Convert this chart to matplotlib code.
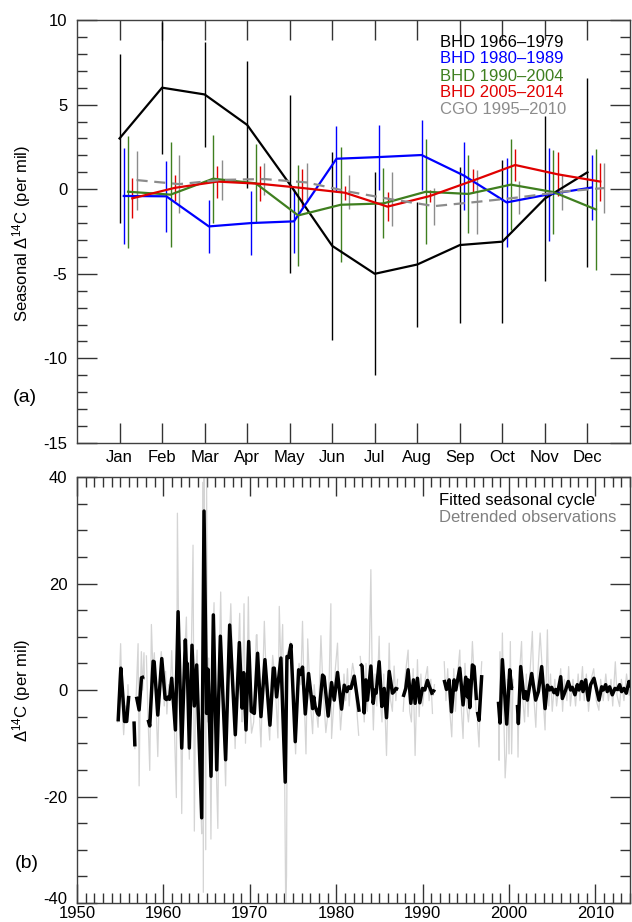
import numpy as np
import matplotlib
matplotlib.use("Agg")
import matplotlib.pyplot as plt
from matplotlib.ticker import MultipleLocator, FixedLocator
import matplotlib.transforms as mtransforms

plt.rcParams['font.family'] = ['Liberation Sans', 'DejaVu Sans']
plt.rcParams['mathtext.fontset'] = 'custom'
plt.rcParams['mathtext.rm'] = 'Liberation Sans'
plt.rcParams['mathtext.it'] = 'Liberation Sans'

# ---------------- Panel (a) data ----------------
months = np.arange(1, 13)
month_labels = ['Jan', 'Feb', 'Mar', 'Apr', 'May', 'Jun', 'Jul', 'Aug', 'Sep', 'Oct', 'Nov', 'Dec']

bhd66 = [3.0, 6.0, 5.6, 3.8, 0.3, -3.35, -5.0, -4.45, -3.3, -3.1, -0.55, 1.0]
bhd66_err = [5.0, 3.9, 3.1, 3.75, 5.25, 5.55, 6.0, 3.7, 4.6, 4.8, 4.85, 5.6]

bhd80 = [-0.4, -0.42, -2.2, -2.0, -1.9, 1.8, 1.9, 2.02, 0.8, -0.78, -0.3, 0.1]
bhd80_err = [2.85, 2.1, 1.55, 1.9, 1.9, 1.95, 1.92, 2.05, 2.0, 2.65, 2.75, 1.94]

bhd90 = [-0.15, -0.32, 0.62, 0.35, -1.55, -0.92, -0.84, -0.15, -0.28, 0.27, -0.17, -1.2]
bhd90_err = [3.3, 3.1, 2.6, 2.3, 3.0, 3.4, 2.07, 3.1, 2.3, 2.7, 2.5, 3.55]

bhd05 = [-0.54, 0.08, 0.45, 0.32, 0.07, -0.21, -1.03, -0.4, 0.5, 1.43, 0.88, 0.45]
bhd05_err = [1.18, 0.77, 0.95, 1.04, 1.15, 0.42, 0.85, 0.37, 0.7, 0.96, 1.3, 1.12]

cgo = [0.54, 0.3, 0.55, 0.6, 0.4, -0.15, -0.6, -1.0, -0.75, -0.48, -0.15, 0.07]
cgo_err = [1.74, 1.72, 1.2, 0.97, 1.15, 1.0, 1.6, 1.1, 1.9, 0.97, 1.05, 1.48]

series_names = ['BHD 1966\u20131979', 'BHD 1980\u20131989', 'BHD 1990\u20132004',
                'BHD 2005\u20132014', 'CGO 1995\u20132010']

# ---------------- Panel (b) data ----------------
# fitted seasonal cycle (year, value); NaN separates data gaps
fit_year = [1954.76, 1955.07, 1955.3, 1955.5, 1955.75, 1955.99, np.nan,
            1956.6, 1956.7, np.nan,
            1956.88, 1957.19, 1957.46, 1957.77, np.nan,
            1958.23, 1958.42, 1958.81, 1958.93, 1959.35, 1959.81, 1960.2, 1960.35, 1960.55, 1960.7,
            1960.96, 1961.39, 1961.7, 1962.12, 1962.54, 1962.66, 1962.75, 1963.0, 1963.31, 1963.58,
            1963.85, 1964.43, 1964.7, 1965.0, 1965.16, 1965.51, 1965.78, 1966.17, 1966.59, 1967.2,
            1967.67, 1968.32, 1968.79, 1969.1, 1969.29, 1969.56, 1969.87, 1970.17, 1970.52, 1970.9,
            1971.29, 1971.75, 1972.33, 1972.72, 1972.83, 1973.1, 1973.6, 1974.1, 1974.3, 1974.5,
            1974.76, 1975.26, 1975.65, 1975.85, 1976.1, 1976.42, 1976.8, 1977.27, 1977.4, 1977.55,
            1977.84, 1978.0, 1978.42, 1978.6, 1979.07, 1979.46, 1979.77, 1980.15, 1980.62, 1980.93,
            1981.24, 1981.43, 1981.7, 1982.08, 1982.66, np.nan,
            1982.78, 1983.0, 1983.24, 1983.43, 1983.62, 1984.01, 1984.28, 1984.47, 1984.62, 1984.97,
            1985.28, 1985.55, 1985.82, 1986.13, 1986.51, 1986.7, 1986.9, 1987.17, np.nan,
            1987.75, 1988.05, 1988.32, 1988.63, 1988.94, 1989.13, 1989.4, 1989.67, 1989.98, 1990.25,
            1990.56, 1990.75, 1990.94, 1991.14, np.nan,
            1991.22, 1991.37, np.nan,
            1992.49, 1992.76, 1993.07, 1993.34, 1993.64, 1993.84, 1994.3, 1994.68, 1994.99, 1995.19,
            1995.26, 1995.46, 1995.76, 1995.96, 1996.23, np.nan,
            1996.34, 1996.53, 1996.84, np.nan,
            1998.77, 1998.96, 1999.23, 1999.73, 2000.08, 2000.3, 2000.47, np.nan,
            2000.97, 2001.08, 2001.35, 2001.73, 2001.93, 2002.12, 2002.62, 2003.08, 2003.4, 2003.78,
            2004.17, 2004.44, 2004.7, 2004.93, 2005.2, 2005.4, 2005.59, 2005.98, 2006.17, 2006.55,
            2006.86, 2007.13, 2007.32, 2007.63, 2007.9, 2008.1, 2008.4, 2008.56, 2008.87, 2009.17,
            2009.44, 2009.83, 2010.41, 2010.72, 2010.91, 2011.18, 2011.37, 2011.64, 2011.95, 2012.26,
            2012.53, 2012.8, 2013.03, 2013.3, 2013.57, 2013.88, 2014.0]
fit_val = [-5.9, 4.1, -1.0, -5.9, -5.9, -1.1, np.nan,
           -5.9, -10.6, np.nan,
           -1.25, -3.75, 2.3, 2.5, np.nan,
           -5.6, -6.75, 5.4, 5.3, -4.7, 5.9, -1.6, -1.8, -1.3, -1.75,
           2.2, -7.5, 14.7, -10.9, 9.4, 4.1, 5.0, -10.9, 8.4, -3.0,
           4.7, -24.0, 33.6, -4.4, 3.9, -16.2, 14.1, -15.0, 10.1, -13.1,
           12.2, -8.4, 8.9, -3.4, 3.25, -7.5, 9.1, -4.0, -4.4, 6.9,
           -5.0, 5.7, -6.6, 4.1, 4.1, -1.3, 6.0, -17.3, 6.3, 6.1,
           8.5, -9.7, 3.8, 2.9, 4.3, -4.5, 3.1, -3.5, -1.3, -3.0,
           -4.4, -4.7, 2.8, 2.5, -4.9, 1.4, -1.9, 3.3, -3.6, 0.9,
           -0.3, 0.6, 0.3, 2.6, -4.1, np.nan,
           4.9, 4.5, -4.3, 1.9, -1.9, 4.5, -2.5, 0.0, -0.6, 5.3,
           -3.1, 0.3, -5.2, 3.5, -0.6, -0.3, 0.3, 0.1, np.nan,
           -1.3, 0.3, 3.8, -2.5, 1.9, -2.5, 2.2, -2.4, 0.3, 0.0,
           1.8, 0.8, 0.0, -0.9, np.nan,
           -0.4, 0.1, np.nan,
           1.9, 0.1, 1.9, -4.1, 1.9, 0.0, 4.1, -2.8, 2.4, -1.3,
           1.9, -3.3, 4.7, 4.4, -1.9, np.nan,
           -4.1, -5.7, 2.8, np.nan,
           -2.2, -6.2, 5.7, -6.4, 3.8, 0.3, 0.3, np.nan,
           -2.8, -6.3, 4.4, -1.6, -0.3, -1.9, 3.1, -1.9, -0.3, 4.4,
           -3.5, 0.9, 0.0, 0.5, -0.5, 0.1, -0.9, 2.5, -1.6, 0.0,
           1.6, 0.0, 0.5, -0.9, 1.0, 0.0, 1.6, -0.3, 1.9, -1.9,
           1.0, 2.2, -1.9, 0.6, 0.0, 1.0, -0.3, 0.6, -0.9, 0.3,
           0.1, 1.0, -0.3, 0.3, -0.6, 1.6, 0.5]

# detrended observations (year, value); NaN separates data gaps
obs_year = [1954.7, 1954.9, 1955.05, 1955.2, 1955.4, 1955.6, 1955.75, 1955.9, 1956.0, np.nan,
            1956.6, 1956.7, np.nan,
            1956.85, 1957.07, 1957.19, 1957.3, 1957.45, 1957.6, 1957.75, 1957.8, np.nan,
            1958.03, 1958.2, 1958.42, 1958.61, 1958.8, 1958.95, 1959.15, 1959.35, 1959.55, 1959.75,
            1959.95, 1960.1, 1960.25, 1960.4, 1960.6, 1960.75, 1960.96, 1961.2, 1961.5, 1961.62,
            1961.8, 1962.0, 1962.12, 1962.3, 1962.5, 1962.66, 1962.8, 1963.0, 1963.2, 1963.43,
            1963.58, 1963.75, 1963.9, 1964.1, 1964.3, 1964.43, 1964.55, 1964.62, 1964.7, 1964.8,
            1964.9, 1965.0, 1965.1, 1965.25, 1965.4, 1965.5, 1965.7, 1965.86, 1966.0, 1966.17,
            1966.3, 1966.45, 1966.63, 1966.8, 1967.0, 1967.2, 1967.4, 1967.6, 1967.8, 1968.0,
            1968.3, 1968.5, 1968.83, 1969.0, 1969.1, 1969.33, 1969.5, 1969.7, 1969.83, 1970.0,
            1970.2, 1970.45, 1970.75, 1970.83, 1971.0, 1971.29, 1971.5, 1971.68, 1971.9, 1972.1,
            1972.3, 1972.5, 1972.65, 1972.85, 1973.1, 1973.25, 1973.41, 1973.6, 1973.8, 1974.0,
            1974.15, 1974.25, 1974.35, 1974.55, 1974.7, 1974.9, 1975.1, 1975.3, 1975.5, 1975.7,
            1975.9, 1976.1, 1976.3, 1976.5, 1976.65, 1976.7, 1977.0, 1977.27, 1977.45, 1977.7,
            1977.9, 1978.1, 1978.23, 1978.45, 1978.8, 1979.0, 1979.2, 1979.38, 1979.46, 1979.7,
            1979.9, 1980.15, 1980.3, 1980.5, 1980.7, 1980.9, 1981.1, 1981.3, 1981.5, 1981.7,
            1981.9, 1982.1, 1982.3, 1982.6, np.nan,
            1982.78, 1983.0, 1983.24, 1983.45, 1983.6, 1983.8, 1984.01, 1984.2, 1984.3, 1984.5,
            1984.7, 1984.97, 1985.1, 1985.3, 1985.5, 1985.82, 1986.13, 1986.3, 1986.5, 1986.7,
            1986.9, 1987.1, np.nan,
            1987.75, 1988.0, 1988.32, 1988.5, 1988.7, 1988.9, 1989.13, 1989.4, 1989.6, 1989.8,
            1990.0, 1990.3, 1990.56, 1990.75, 1990.95, 1991.14, np.nan,
            1991.22, 1991.37, np.nan,
            1992.5, 1992.7, 1992.9, 1993.1, 1993.37, 1993.6, 1993.8, 1994.0, 1994.3, 1994.5,
            1994.68, 1994.9, 1995.1, 1995.3, 1995.5, 1995.76, 1995.95, 1996.2, np.nan,
            1996.34, 1996.53, 1996.7, 1996.84, np.nan,
            1998.77, 1998.85, 1998.95, 1999.1, 1999.23, 1999.4, 1999.55, 1999.7, 1999.8, 2000.0,
            2000.15, 2000.3, 2000.47, np.nan,
            2000.97, 2001.04, 2001.2, 2001.45, 2001.6, 2001.8, 2002.0, 2002.2, 2002.45, 2002.7,
            2002.9, 2003.1, 2003.3, 2003.6, 2003.8, 2004.0, 2004.17, 2004.44, 2004.6, 2004.8,
            2005.0, 2005.3, 2005.5, 2005.8, 2005.98, 2006.2, 2006.4, 2006.7, 2006.9, 2007.1,
            2007.4, 2007.7, 2008.0, 2008.2, 2008.5, 2008.7, 2008.95, 2009.2, 2009.5, 2009.8,
            2010.1, 2010.4, 2010.6, 2010.9, 2011.2, 2011.5, 2011.8, 2012.0, 2012.3, 2012.5,
            2012.8, 2013.0, 2013.3, 2013.6, 2013.9, 2014.0]
obs_val = [-6, 2, 8.7, -2, -8.4, -3, -6, 1, -2, np.nan,
           -6, -11, np.nan,
           -1, 8.7, -18, -2, 7.2, 0, 7, 2, np.nan,
           6.4, -4, -15.1, 12.3, 3, 7, -3, -12.5, 2, 7.2,
           3, -3, 3.5, -4.5, 1, -2, 7.4, -3, -20.2, 33.2,
           5, -5, -23.2, 2, 8, 13.7, 0, -13, 4, 27.2,
           -26.5, 4, 7.5, -8, -20, -27, 39, -38, 40, 15,
           -30, 40, -6, 6, -10, -28, 8, 16.4, -4, -18,
           -26, 4, 18.4, 2, -8, -18, 0, 8, 16.2, 5,
           -11, 0, 14.4, -2, -6, 16.2, -10, 3, 17.5, -2,
           -8.1, -6, 10.3, 10.4, 0, -10.7, 2, 12.9, 2, -5,
           -9.4, 2, 6.5, 3, -4, -9, 15.7, 4, 12.3, -10,
           -40, -35, 7, 8, 9, 3, -5, -12, -3, 5,
           1, 12.9, -2, -12, 3, 9.6, -2, -8.2, 1, -4,
           -7, 3, 10.2, 1, -8, -5, 3, 16.2, -9.1, -3,
           4, 8.8, 0, -7.5, -3, 3, -2, 4, -3, 2,
           5, 3, -2, -8.5, np.nan,
           6.3, 2, -6, 5, -4, 3, 22.6, -2, -7.5, 3,
           -3, 10.1, -2, -6, 3, -12.3, 8.8, -2, -4, 4.5,
           -2, 2, np.nan,
           -4, 3, 7.5, -4, -6, 4, -12.3, 5.7, -5, 3,
           -3, 2, 4.4, -2, 2, -4.4, np.nan,
           -1, 1, np.nan,
           5.3, -2, 4, -3, -8.8, 4, -4, 2, 7.5, -4,
           -9.1, 5, -3, -6, -2, 9.1, 3, -4, np.nan,
           -6, -10.7, 1, 5.3, np.nan,
           -4, -13.2, 7.2, -3, 10.7, -5, -16.5, -12, 2, -12,
           9.1, -12, 2, np.nan,
           -4, -12.6, 3, 9.1, -2, -6, 3, -5, 4, 11,
           -2, -7, 2, 10.7, 5, -3, -7.5, 11.3, -3, 3,
           -4, 2, -3, 1, 4, -4, 2, -2, 4.4, -3,
           2, -3, 3, -2, 4.4, -2, 3, -4, 2, 4,
           -2, -3.8, 2, -2, 3, -2, 2, -3, 5.3, -1,
           -3.1, 2, -2, 3, -1, 2]

# ---------------- Figure ----------------
W, H = 632, 922
fig = plt.figure(figsize=(W / 100, H / 100), dpi=100)

def px_axes(l, t, r, b):
    return [l / W, 1 - b / H, (r - l) / W, (b - t) / H]

axA = fig.add_axes(px_axes(77, 20, 630, 443))
axB = fig.add_axes(px_axes(77, 477, 630, 903))

spine_col = '#404040'
tick_col = '#333333'
fs = 12

colors = ['#000000', '#0000ff', '#3f7f1f', '#e00000', '#8c8c8c']
data = [(bhd66, bhd66_err), (bhd80, bhd80_err), (bhd90, bhd90_err),
        (bhd05, bhd05_err), (cgo, cgo_err)]
offsets = [0.0, 0.1, 0.2, 0.3, 0.4]

for i, ((vals, errs), c, off) in enumerate(zip(data, colors, offsets)):
    x = months + off
    axA.errorbar(x, vals, yerr=errs, fmt='none', ecolor=c, elinewidth=1.0,
                 capsize=0, zorder=2)
    ls = (0, (5, 3)) if i == 4 else '-'
    axA.plot(x, vals, color=c, lw=1.6, ls=ls, zorder=3 + i * 0.1)

axA.set_xlim(0, 13)
axA.set_ylim(-15, 10)
axA.xaxis.set_major_locator(FixedLocator(months))
axA.set_xticklabels(month_labels)
axA.yaxis.set_major_locator(MultipleLocator(5))
axA.yaxis.set_minor_locator(MultipleLocator(1))
axA.tick_params(axis='x', which='major', direction='in', length=14.4, width=1.0,
                top=True, bottom=True, color=tick_col, labelsize=fs, pad=5)
axA.tick_params(axis='y', which='major', direction='in', length=14.4, width=1.0,
                left=True, right=True, color=tick_col, labelsize=fs, pad=7)
axA.tick_params(axis='y', which='minor', direction='in', length=7.2, width=1.0,
                left=True, right=True, color=tick_col)
axA.set_yticks([10, 5, 0, -5, -10, -15])
axA.set_yticklabels(['10', '5', '0', '-5', '-10', '-15'])

leg_y = [8.66, 7.70, 6.69, 5.70, 4.72]
for name, c, yy in zip(series_names, colors, leg_y):
    axA.text(8.53, yy, name, color=c, fontsize=fs, ha='left', va='center')

# Panel (b)
axB.plot(obs_year, obs_val, color='#d4d4d4', lw=0.9, zorder=2)
axB.plot(fit_year, fit_val, color='#000000', lw=2.5, zorder=3,
         solid_joinstyle='round', solid_capstyle='butt')

axB.set_xlim(1950, 2014)
axB.set_ylim(-40, 40)
axB.xaxis.set_major_locator(MultipleLocator(10))
axB.xaxis.set_minor_locator(MultipleLocator(1))
axB.yaxis.set_major_locator(MultipleLocator(20))
axB.yaxis.set_minor_locator(MultipleLocator(5))
axB.tick_params(axis='x', which='major', direction='in', length=13.7, width=1.0,
                top=True, bottom=True, color=tick_col, labelsize=fs, pad=2)
axB.tick_params(axis='x', which='minor', direction='in', length=7.2, width=1.0,
                top=True, bottom=True, color=tick_col)
axB.tick_params(axis='y', which='major', direction='in', length=14.4, width=1.0,
                left=True, right=True, color=tick_col, labelsize=fs, pad=7)
axB.tick_params(axis='y', which='minor', direction='in', length=7.2, width=1.0,
                left=True, right=True, color=tick_col)
axB.set_xticks([1950, 1960, 1970, 1980, 1990, 2000, 2010])
axB.set_xticklabels(['1950', '1960', '1970', '1980', '1990', '2000', '2010'])
axB.set_yticks([40, 20, 0, -20, -40])
axB.set_yticklabels(['40', '20', '0', '-20', '-40'])

# nudge the lowest y label up slightly so it does not collide with "1950"
lab = axB.get_yticklabels()[-1]
lab.set_transform(lab.get_transform() +
                  mtransforms.ScaledTranslation(0, 5 / 100, fig.dpi_scale_trans))

axB.text(1991.9, 35.5, 'Fitted seasonal cycle', color='#000000', fontsize=fs,
         ha='left', va='center')
axB.text(1991.9, 32.4, 'Detrended observations', color='#808080', fontsize=fs,
         ha='left', va='center')

for ax in (axA, axB):
    for s in ax.spines.values():
        s.set_color(spine_col)
        s.set_linewidth(1.0)

fig.text(22 / W, 1 - 233 / H, 'Seasonal \u0394$^{14}$C (per mil)', rotation=90,
         ha='center', va='center', fontsize=fs)
fig.text(22 / W, 1 - 690 / H, '\u0394$^{14}$C (per mil)', rotation=90,
         ha='center', va='center', fontsize=fs)
fig.text(25 / W, 1 - 397 / H, '(a)', ha='center', va='center', fontsize=14)
fig.text(27 / W, 1 - 863 / H, '(b)', ha='center', va='center', fontsize=14)

fig.savefig('out.png', dpi=100)
